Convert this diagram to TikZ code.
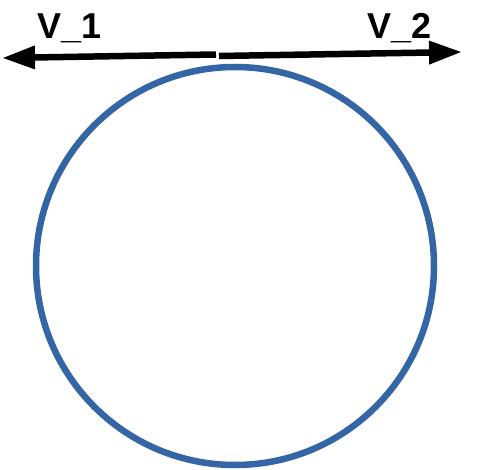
\documentclass[tikz,border=0pt]{standalone}
\usepackage{fontspec}
\setmainfont{Liberation Sans}
\usetikzlibrary{arrows.meta}
\definecolor{circblue}{RGB}{52,101,164}
\begin{document}
\begin{tikzpicture}[x=1pt,y=-1pt,
  vec/.style={line width=6.5pt,-{Triangle[length=33pt,width=22pt]}},
  lbl/.style={anchor=base west,inner sep=0pt,font=\fontsize{36}{40}\selectfont\bfseries}]
\useasboundingbox (0,0) rectangle (495,470);
\node[draw=circblue,line width=6.5pt,circle,minimum size=398pt,inner sep=0pt] (c) at (235,266) {};
\coordinate (s1) at (216,54.5);
\coordinate (e1) at (2,58);
\coordinate (s2) at (219,56);
\coordinate (e2) at (462,52);
\draw[vec] (s1) -- (e1);
\draw[vec] (s2) -- (e2);
\node[lbl] (v1) at (37,39) {V\_1};
\node[lbl] (v2) at (367,39) {V\_2};
\end{tikzpicture}
\end{document}
